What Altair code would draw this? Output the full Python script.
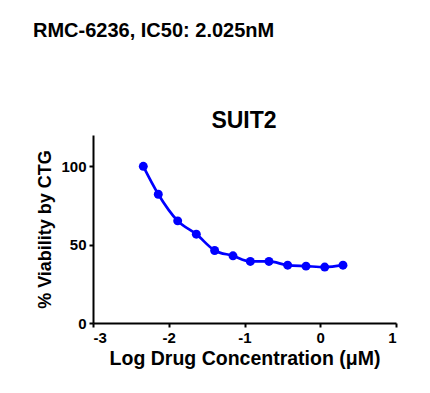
import altair as alt
import pandas as pd

log_conc = [-2.336, -2.138, -1.882, -1.636, -1.394, -1.152, -0.923, -0.677, -0.430, -0.188, 0.059, 0.300]
viability = [100.0, 82.2, 65.2, 56.7, 46.3, 42.9, 39.3, 39.3, 36.9, 36.3, 35.7, 36.9]

x_ticks = [-3, -2, -1, 0, 1]
y_ticks = [0, 50, 100]

main_title = "RMC-6236, IC50: 2.025nM"
panel_title = "SUIT2"
FONT = "Liberation Sans"
BLUE = "#0000FF"

df = pd.DataFrame({"x": log_conc, "y": viability})

xenc = alt.X("x:Q", scale=alt.Scale(domain=[-3, 1], nice=False, zero=False),
             axis=alt.Axis(values=x_ticks, title="Log Drug Concentration (\u03bcM)",
                           labelExpr="'' + datum.value", titlePadding=4, titleFontSize=19.5))
yenc = alt.Y("y:Q", scale=alt.Scale(domain=[0, 120], nice=False),
             axis=alt.Axis(values=y_ticks, title="% Viability by CTG", titlePadding=6,
                           titleFontSize=18))

line = alt.Chart(df).mark_line(color=BLUE, strokeWidth=2.7, interpolate="monotone").encode(x=xenc, y=yenc)
pts = alt.Chart(df).mark_circle(color=BLUE, opacity=1, size=80).encode(x="x:Q", y="y:Q")

top = alt.Chart(pd.DataFrame({"t": [main_title]})).mark_text(
    align="left", baseline="middle", font=FONT, fontWeight="bold", fontSize=20, color="black"
).encode(text="t:N", x=alt.value(-60), y=alt.value(-104))

sub = alt.Chart(pd.DataFrame({"t": [panel_title]})).mark_text(
    align="center", baseline="alphabetic", font=FONT, fontWeight="bold", fontSize=23, color="black"
).encode(text="t:N", x=alt.value(151), y=alt.value(-7))

chart = alt.layer(line, pts, top, sub).properties(
    width=303, height=188,
    autosize=alt.AutoSizeParams(type="none"),
    padding={"left": 85, "top": 127, "right": 20, "bottom": 60},
).configure_view(stroke=None).configure_axis(
    grid=False, domainColor="black", domainWidth=2, tickColor="black", tickWidth=2,
    tickSize=4, labelFont=FONT, labelFontSize=15, labelFontWeight="bold", labelColor="black",
    titleFont=FONT, titleFontWeight="bold", titleColor="black", labelPadding=3
)

chart.save("out.html", embed_options={"renderer": "svg", "actions": False})
